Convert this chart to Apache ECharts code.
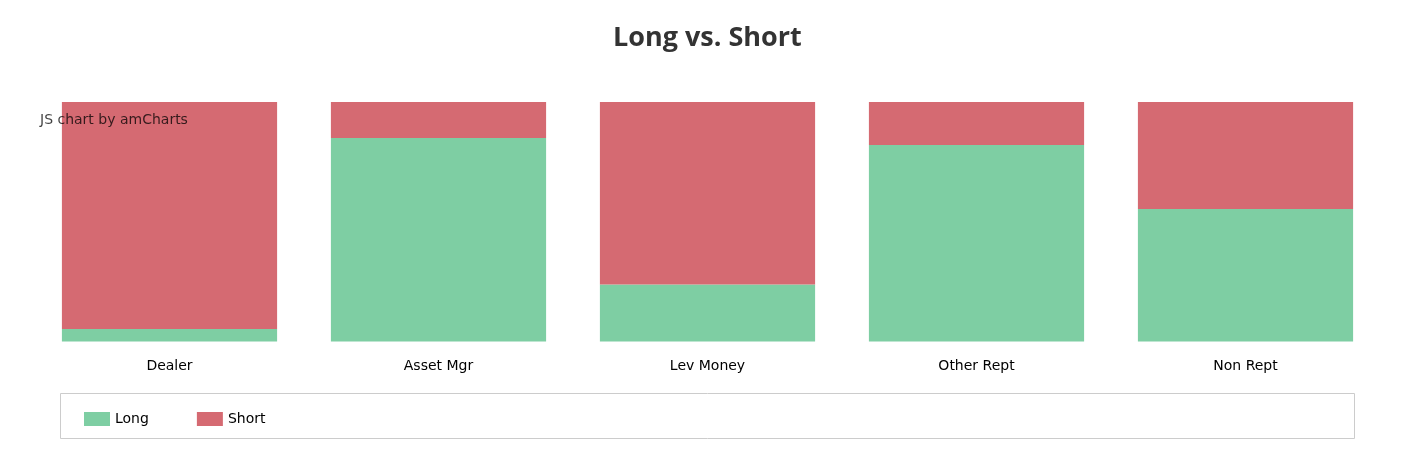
<!DOCTYPE html>
<html>
<head>
<meta charset="utf-8">
<script src="https://cdn.jsdelivr.net/npm/echarts@6/dist/echarts.min.js"></script>
<style>
html,body{margin:0;padding:0;background:#fff;}
#main{width:1405px;height:456px;}
</style>
</head>
<body>
<div id="main"></div>
<script>
var categories = ['Dealer', 'Asset Mgr', 'Lev Money', 'Other Rept', 'Non Rept'];
var longValues = [5.2, 85.0, 23.8, 82.0, 55.3];
var shortValues = [94.8, 15.0, 76.2, 18.0, 44.7];

var chart = echarts.init(document.getElementById('main'));
chart.setOption({
  animation: false,
  backgroundColor: '#ffffff',
  title: {
    text: 'Long vs. Short',
    left: 608,
    top: 20,
    textStyle: { fontFamily: '"Open Sans"', fontWeight: 700, fontSize: 27, color: '#333333' }
  },
  legend: {
    left: 84,
    top: 412,
    padding: 0,
    itemWidth: 26,
    itemHeight: 14,
    itemGap: 48,
    icon: 'rect',
    textStyle: { fontFamily: 'DejaVu Sans', fontSize: 14, color: '#000000' },
    data: ['Long', 'Short']
  },
  grid: { left: 35, right: 25, top: 102, bottom: 114.5, containLabel: false },
  xAxis: {
    type: 'category',
    data: categories,
    axisLine: { show: false },
    axisTick: { show: false },
    axisLabel: { margin: 18, fontFamily: 'DejaVu Sans', fontSize: 14, color: '#000000' }
  },
  yAxis: {
    type: 'value',
    min: 0,
    max: 100,
    show: false,
    splitLine: { show: false }
  },
  series: [
    { name: 'Long', type: 'bar', stack: 'total', data: longValues, barCategoryGap: '20%', itemStyle: { color: '#7ecea3' } },
    { name: 'Short', type: 'bar', stack: 'total', data: shortValues, barCategoryGap: '20%', itemStyle: { color: '#d56a72' } }
  ],
  graphic: [
    {
      type: 'rect', z: -1,
      shape: { x: 60.5, y: 393.5, width: 1294, height: 45 },
      style: { fill: 'none', stroke: '#cccccc', lineWidth: 1 }
    },
    {
      type: 'text', left: 40, top: 113, z: 100,
      style: { text: 'JS chart by amCharts', font: '14px "DejaVu Sans"', fill: 'rgba(0,0,0,0.75)' }
    }
  ]
});
</script>
</body>
</html>
